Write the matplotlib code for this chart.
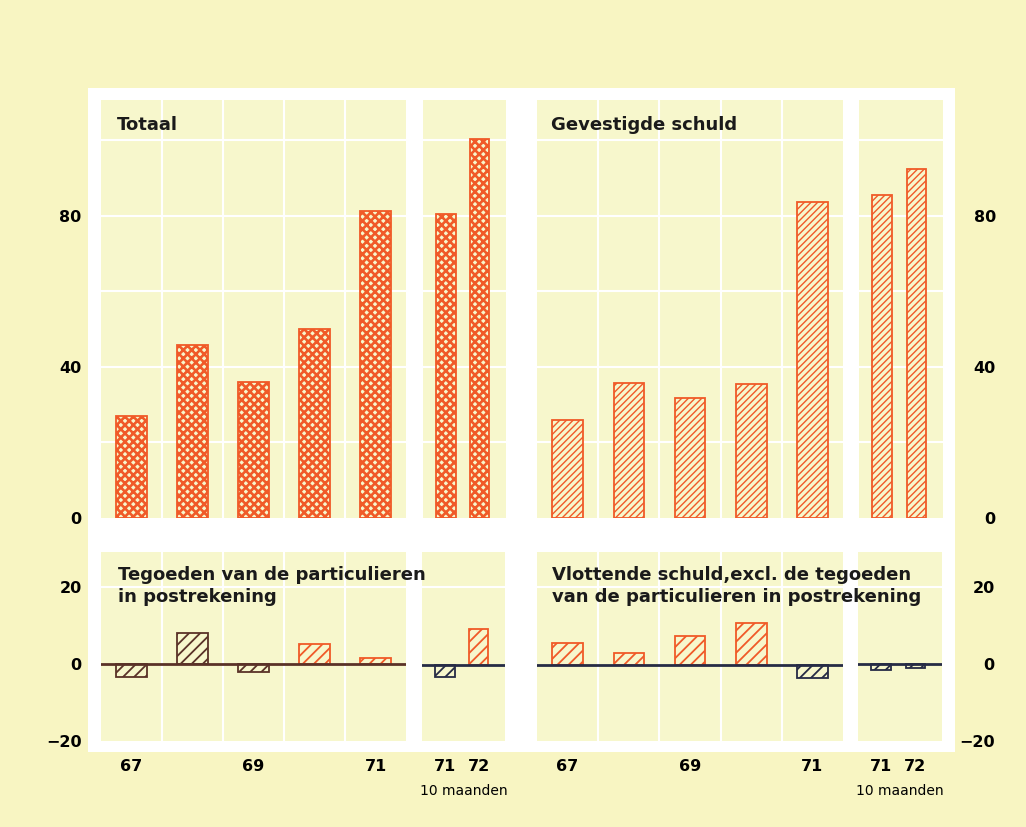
import matplotlib
matplotlib.use("Agg")
import matplotlib.pyplot as plt
from matplotlib.patches import Rectangle

# values
years_main = ["67", "", "69", "", "71"]
years_part = ["71", "72"]
part_note = "10 maanden"

totaal = [27, 45.8, 36.1, 50, 81.4]
totaal_10m = [80.4, 100.3]
gevestigd = [26, 35.7, 31.7, 35.4, 83.8]
gevestigd_10m = [85.6, 92.4]
tegoeden = [-3.3, 8.0, -2.0, 5.2, 1.5]
tegoeden_10m = [-3.0, 9.3]
vlottend = [5.6, 3.0, 7.4, 10.8, -3.3]
vlottend_10m = [-1.6, -1.0]

# print colours per bar (as in the original print)
tegoeden_cols = ["brown", "brown", "brown", "orange", "orange"]
tegoeden_10m_cols = ["navy", "orange"]
vlottend_cols = ["orange", "orange", "orange", "orange", "navy"]
vlottend_10m_cols = ["navy", "navy"]

top_ticks = [0, 40, 80]
bot_ticks = [-20, 0, 20]

OUTER = "#f8f5c2"
PANEL = "#f7f7cc"
PAL = {"orange": "#f05a28", "brown": "#5a3228", "navy": "#262b45"}

W, H = 1026, 827
fig = plt.figure(figsize=(W / 100, H / 100), dpi=100, facecolor=OUTER)
fig.patches.append(Rectangle((88 / W, 1 - 752 / H), (955 - 88) / W, (752 - 88) / H,
                             transform=fig.transFigure, facecolor="white",
                             edgecolor="none", zorder=-10))


def px_axes(x0, x1, y0, y1, z=0):
    ax = fig.add_axes([x0 / W, 1 - y1 / H, (x1 - x0) / W, (y1 - y0) / H])
    ax.set_zorder(z)
    ax.set_facecolor(PANEL)
    for s in ax.spines.values():
        s.set_visible(False)
    ax.tick_params(length=0, labelsize=11.5)
    ax.set_xticks([])
    ax.set_yticks([])
    return ax


def set_hlw(patch, lw):
    if hasattr(patch, "set_hatch_linewidth"):
        patch.set_hatch_linewidth(lw)


def draw(ax, vals, cols, hatch, hlw, main, ylim, hlines):
    n = len(vals)
    x = list(range(n))
    width = 0.5 if main else 0.57
    plt.rcParams["hatch.linewidth"] = hlw
    bars = ax.bar(x, vals, width=width, facecolor=PANEL,
                  edgecolor=[PAL[c] for c in cols], hatch=hatch,
                  linewidth=1.3, zorder=3)
    for b in bars:
        set_hlw(b, hlw)
    if main:
        ax.set_xlim(-0.5, n - 0.5)
        for v in range(1, n):
            ax.axvline(v - 0.5, color="white", lw=1.5, zorder=1)
    else:
        ax.set_xlim(-0.68, 1.78)
    for h in hlines:
        ax.axhline(h, color="white", lw=1.5, zorder=1)
    ax.set_ylim(*ylim)


top_ylim = (0, 110.7)
bot_ylim = (-19.5, 29)
top_grid = [20, 40, 60, 80, 100]
bot_grid = [20]

# top row
ax_tl = px_axes(101, 406, 100, 518)
draw(ax_tl, totaal, ["orange"] * 5, "xxxx", 1.9, True, top_ylim, top_grid)
ax_tl2 = px_axes(423, 506, 100, 518)
draw(ax_tl2, totaal_10m, ["orange"] * 2, "xxxx", 1.9, False, top_ylim, top_grid)
ax_tr = px_axes(537, 843, 100, 518)
draw(ax_tr, gevestigd, ["orange"] * 5, "/////", 1.0, True, top_ylim, top_grid)
ax_tr2 = px_axes(859, 943, 100, 518)
draw(ax_tr2, gevestigd_10m, ["orange"] * 2, "/////", 1.0, False, top_ylim, top_grid)

# bottom row (main axes above the small ones so the titles can run over)
ax_bl = px_axes(101, 406, 552, 741, z=2)
draw(ax_bl, tegoeden, tegoeden_cols, "///", 1.3, True, bot_ylim, bot_grid)
ax_bl2 = px_axes(422, 505, 552, 741)
draw(ax_bl2, tegoeden_10m, tegoeden_10m_cols, "///", 1.3, False, bot_ylim, bot_grid)
ax_br = px_axes(537, 843, 552, 741, z=2)
draw(ax_br, vlottend, vlottend_cols, "///", 1.3, True, bot_ylim, bot_grid)
ax_br2 = px_axes(858, 942, 552, 741)
draw(ax_br2, vlottend_10m, vlottend_10m_cols, "///", 1.3, False, bot_ylim, bot_grid)

# zero lines
for ax, c in [(ax_bl, "brown"), (ax_bl2, "navy"), (ax_br, "navy"), (ax_br2, "navy")]:
    ax.axhline(0, color=PAL[c], lw=2.0, zorder=4)

# y tick labels left and right
for ax, ticks in [(ax_tl, top_ticks), (ax_bl, bot_ticks)]:
    ax.set_yticks(ticks)
    ax.set_yticklabels([str(t).replace("-", "\u2212") for t in ticks],
                       fontweight="bold")
    ax.tick_params(axis="y", pad=14)
for ax, ticks in [(ax_tr2, top_ticks), (ax_br2, bot_ticks)]:
    ax.yaxis.tick_right()
    ax.set_yticks(ticks)
    ax.set_yticklabels([str(t).replace("-", "\u2212") for t in ticks],
                       fontweight="bold", ha="right")
    ax.tick_params(axis="y", pad=38)

# x tick labels
for ax in (ax_bl, ax_br):
    ax.set_xticks(range(len(years_main)))
    ax.set_xticklabels(years_main, fontweight="bold")
    ax.tick_params(axis="x", pad=13)
for ax in (ax_bl2, ax_br2):
    ax.set_xticks(range(len(years_part)))
    ax.set_xticklabels(years_part, fontweight="bold")
    ax.tick_params(axis="x", pad=13)
    ax.text(0.5, -0.265, part_note, transform=ax.transAxes, ha="center",
            va="center", fontsize=10)

# panel titles
tkw = dict(fontsize=13, fontweight="bold", va="top", ha="left",
           linespacing=1.3, zorder=5, color="#1a1a1a")
ax_tl.text(0.052, 0.962, "Totaal", transform=ax_tl.transAxes, **tkw)
ax_tr.text(0.046, 0.962, "Gevestigde schuld", transform=ax_tr.transAxes, **tkw)
ax_bl.text(0.055, 0.925, "Tegoeden van de particulieren\nin postrekening",
           transform=ax_bl.transAxes, **tkw)
ax_br.text(0.05, 0.925, "Vlottende schuld,excl. de tegoeden\nvan de particulieren in postrekening",
           transform=ax_br.transAxes, **tkw)

fig.savefig("out.png", dpi=100, facecolor=OUTER)
